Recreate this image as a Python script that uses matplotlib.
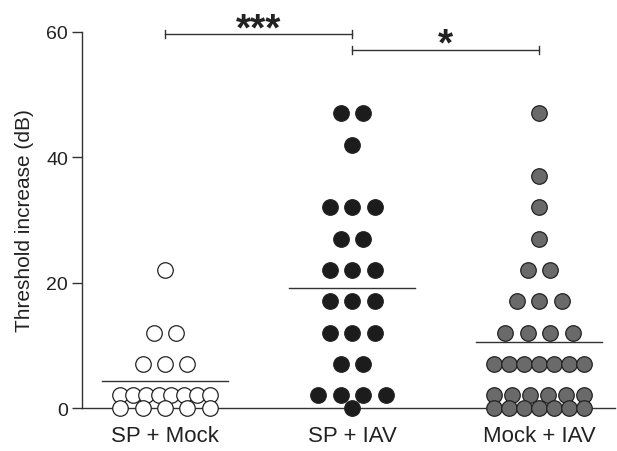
import numpy as np
import matplotlib
matplotlib.use("Agg")
import matplotlib.pyplot as plt

plt.rcParams['font.family'] = ['Liberation Sans', 'DejaVu Sans']

# threshold increase (dB) per animal
groups = ['SP + Mock', 'SP + IAV', 'Mock + IAV']
sp_mock = [22, 12, 12, 7, 7, 7, 2, 2, 2, 2, 2, 2, 2, 2, 0, 0, 0, 0, 0]
sp_iav = [47, 47, 42, 32, 32, 32, 27, 27, 22, 22, 22, 17, 17, 17,
          12, 12, 12, 7, 7, 2, 2, 2, 2, 0]
mock_iav = [47, 37, 32, 27, 22, 22, 17, 17, 17, 12, 12, 12, 12,
            7, 7, 7, 7, 7, 7, 7, 2, 2, 2, 2, 2, 2, 0, 0, 0, 0, 0, 0, 0]
face_colors = ['white', '#1c1c1c', '#6a6a6a']
# (group a, group b, label, bracket height, label height)
comparisons = [(0, 1, '***', 59.7, 57.6), (1, 2, '*', 57.1, 55.2)]

data = [sp_mock, sp_iav, mock_iav]


def row_offsets(vals, step=0.12, half=0.24):
    # spread points that share a value side by side
    vals = np.asarray(vals)
    xs = np.zeros(len(vals))
    for v in np.unique(vals):
        idx = np.where(vals == v)[0]
        n = len(idx)
        if n > 1:
            sp = min(step, 2 * half / (n - 1))
            xs[idx] = (np.arange(n) - (n - 1) / 2) * sp
    return xs


fig = plt.figure(figsize=(6.17, 4.52), dpi=100)
ax = fig.add_axes([0.1329, 0.0951, 0.8639, 0.8319])

for i, (vals, fc) in enumerate(zip(data, face_colors)):
    pos = i + 1
    xs = pos + row_offsets(vals)
    ax.scatter(xs, vals, s=125, facecolor=fc, edgecolor='#222222',
               linewidth=0.9, zorder=3, clip_on=False)
    m = np.mean(vals)
    ax.plot([pos - 0.336, pos + 0.336], [m, m], color='#333333', lw=1.0, zorder=2)

# significance brackets
for a, b, label, y, ty in comparisons:
    x1, x2 = a + 1, b + 1
    ax.plot([x1, x2], [y, y], color='#333333', lw=1.0, clip_on=False)
    for xx in (x1, x2):
        ax.plot([xx, xx], [y - 0.6, y + 0.6], color='#333333', lw=1.0, clip_on=False)
    ax.text((x1 + x2) / 2, ty, label, ha='center', va='bottom',
            fontsize=28, fontweight='bold', color='#222222', clip_on=False)

ax.set_xlim(0.556, 3.406)
ax.set_ylim(0, 60)
ax.set_yticks([0, 20, 40, 60])
ax.set_xticks([1, 2, 3])
ax.set_xticklabels(groups, fontsize=16, color='#222222')
ax.tick_params(axis='y', labelsize=14, length=7, width=1, pad=3,
               color='#333333', labelcolor='#222222')
ax.tick_params(axis='x', length=0, pad=12)
ax.set_ylabel('Threshold increase (dB)', fontsize=15, color='#222222', labelpad=9)

for s in ['top', 'right']:
    ax.spines[s].set_visible(False)
ax.spines['left'].set_color('#333333')
ax.spines['bottom'].set_color('#333333')
ax.spines['left'].set_linewidth(1)
ax.spines['bottom'].set_linewidth(1)

fig.savefig('out.png', dpi=100)
